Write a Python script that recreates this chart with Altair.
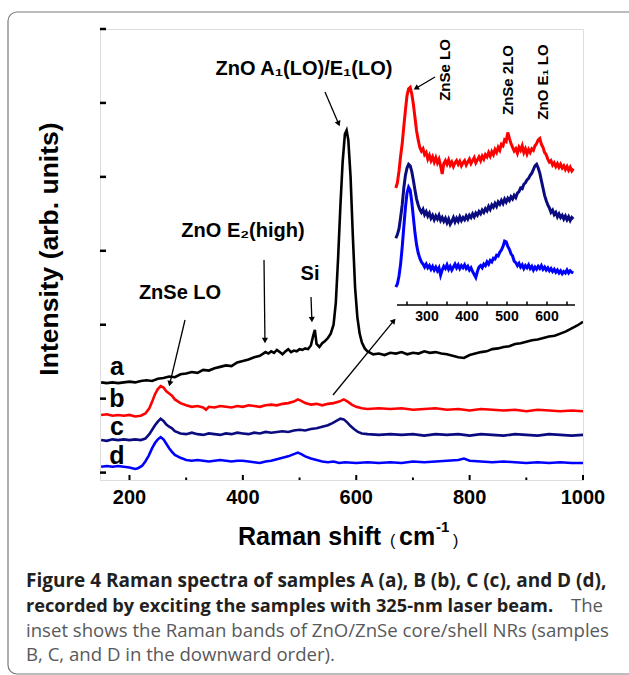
import math
import altair as alt
import pandas as pd

# ---------------- data ----------------
x_a = [150,160,170,180,190,200,210,220,230,240,250,260,270,280,290,300,310,320,330,340,350,360,370,380,390,400,410,420,430,440,445,450,455,460,465,470,475,480,485,490,495,500,505,510,515,520,524,527,530,535,540,545,550,555,560,564,568,572,576,580,583,586,590,594,598,602,606,610,615,620,630,640,650,660,670,680,690,700,710,720,730,740,750,760,770,780,790,800,810,820,830,840,850,860,870,880,890,900,910,920,930,940,950,960,970,980,990,1000]
y_a = [1.22,1.21,1.22,1.21,1.22,1.23,1.22,1.24,1.25,1.24,1.27,1.28,1.30,1.29,1.33,1.34,1.36,1.35,1.39,1.38,1.41,1.43,1.45,1.44,1.49,1.51,1.53,1.56,1.58,1.63,1.61,1.64,1.62,1.66,1.63,1.60,1.64,1.67,1.63,1.65,1.64,1.67,1.66,1.68,1.67,1.72,1.85,1.93,1.74,1.70,1.75,1.78,1.82,1.88,2.00,2.30,2.90,3.60,4.20,4.58,4.63,4.50,4.00,3.20,2.50,2.10,1.88,1.76,1.68,1.64,1.60,1.61,1.59,1.62,1.61,1.63,1.60,1.62,1.61,1.64,1.62,1.63,1.61,1.60,1.58,1.56,1.55,1.59,1.61,1.63,1.64,1.67,1.68,1.70,1.71,1.74,1.75,1.77,1.79,1.80,1.82,1.84,1.85,1.88,1.91,1.95,1.99,2.04]

x_b = [150,160,170,180,190,200,210,220,228,235,240,245,250,255,260,265,270,275,280,290,300,310,320,330,335,340,350,360,370,380,390,400,410,420,430,440,450,460,470,480,490,497,503,510,520,530,540,550,560,570,578,585,592,600,610,620,640,660,680,700,720,740,760,780,800,820,840,860,880,900,920,940,960,980,1000]
y_b = [0.78,0.79,0.77,0.78,0.77,0.78,0.76,0.77,0.80,0.87,0.96,1.06,1.13,1.17,1.15,1.10,1.07,1.04,0.99,0.94,0.91,0.89,0.90,0.88,0.85,0.89,0.88,0.90,0.89,0.88,0.90,0.89,0.91,0.90,0.89,0.91,0.92,0.91,0.93,0.94,0.96,0.99,0.97,0.94,0.92,0.93,0.91,0.93,0.94,0.96,0.99,0.96,0.92,0.89,0.87,0.86,0.87,0.86,0.87,0.85,0.86,0.87,0.85,0.86,0.84,0.86,0.85,0.84,0.85,0.83,0.85,0.84,0.83,0.84,0.83]

x_c = [150,160,170,180,190,200,210,220,228,235,240,245,250,255,260,265,270,275,280,290,300,310,320,330,340,350,360,370,380,390,400,410,420,430,440,450,460,470,480,490,500,510,520,530,540,550,558,565,572,578,584,590,596,603,610,620,640,660,680,700,720,740,760,780,800,820,840,860,880,900,920,940,960,980,1000]
y_c = [0.44,0.43,0.45,0.44,0.45,0.44,0.45,0.44,0.46,0.52,0.58,0.64,0.69,0.73,0.70,0.65,0.62,0.60,0.56,0.53,0.52,0.54,0.52,0.51,0.53,0.52,0.51,0.53,0.52,0.54,0.53,0.52,0.54,0.53,0.55,0.54,0.55,0.56,0.55,0.57,0.58,0.57,0.59,0.60,0.62,0.64,0.67,0.70,0.73,0.72,0.68,0.63,0.59,0.55,0.53,0.52,0.51,0.52,0.51,0.52,0.50,0.52,0.51,0.52,0.50,0.52,0.51,0.50,0.52,0.51,0.50,0.52,0.51,0.50,0.51]

x_d = [150,160,170,180,190,200,210,215,222,228,234,240,245,250,255,260,265,270,275,280,290,300,310,320,330,340,350,360,370,380,390,400,410,420,430,440,450,460,470,480,490,497,503,510,520,530,540,550,560,570,580,600,620,640,660,680,700,720,740,760,780,790,800,820,840,860,880,900,920,940,960,980,1000]
y_d = [0.08,0.09,0.08,0.09,0.08,0.07,0.05,0.06,0.09,0.15,0.23,0.33,0.40,0.45,0.48,0.45,0.39,0.33,0.28,0.24,0.20,0.17,0.16,0.17,0.16,0.15,0.16,0.17,0.16,0.15,0.16,0.16,0.15,0.14,0.13,0.15,0.16,0.18,0.20,0.22,0.25,0.27,0.25,0.22,0.19,0.17,0.15,0.14,0.15,0.13,0.14,0.13,0.14,0.13,0.14,0.13,0.15,0.14,0.15,0.16,0.17,0.19,0.16,0.15,0.14,0.15,0.14,0.13,0.14,0.13,0.14,0.13,0.13]

# inset spectra (samples B, C, D); inset x in cm^-1, 4 cm^-1 steps
ix_grid = [222,226,230,234,238,242,246,250,254,258,262,266,270,274,278,282,286,290,294,298,302,306,310,314,318,322,326,330,334,338,342,346,350,354,358,362,366,370,374,378,382,386,390,394,398,402,406,410,414,418,422,426,430,434,438,442,446,450,454,458,462,466,470,474,478,482,486,490,494,498,502,506,510,514,518,522,526,530,534,538,542,546,550,554,558,562,566,570,574,578,582,586,590,594,598,602,606,610,614,618,622,626,630,634,638,642,646,650,654,658,662,666]
iy_b = [3.85,3.92,4.08,4.28,4.45,4.68,4.90,5.10,5.19,5.21,5.12,4.98,4.80,4.62,4.50,4.40,4.35,4.38,4.30,4.33,4.24,4.29,4.22,4.27,4.20,4.26,4.19,4.24,4.15,4.04,4.18,4.22,4.17,4.23,4.16,4.20,4.14,4.19,4.22,4.17,4.21,4.15,4.19,4.22,4.16,4.20,4.24,4.18,4.22,4.26,4.19,4.23,4.27,4.22,4.28,4.24,4.30,4.27,4.33,4.28,4.34,4.30,4.37,4.33,4.40,4.36,4.44,4.42,4.50,4.48,4.60,4.52,4.45,4.40,4.35,4.38,4.32,4.40,4.36,4.42,4.33,4.38,4.31,4.37,4.33,4.38,4.36,4.42,4.45,4.50,4.52,4.44,4.40,4.33,4.30,4.24,4.20,4.22,4.16,4.19,4.14,4.18,4.13,4.17,4.12,4.15,4.10,4.14,4.09,4.13,4.08,4.11]
iy_c = [3.17,3.22,3.30,3.45,3.62,3.85,4.02,4.12,4.17,4.15,4.07,3.95,3.82,3.70,3.62,3.56,3.52,3.56,3.49,3.53,3.47,3.51,3.44,3.48,3.42,3.47,3.43,3.48,3.41,3.45,3.40,3.44,3.38,3.43,3.36,3.40,3.45,3.39,3.44,3.40,3.46,3.41,3.45,3.42,3.47,3.43,3.48,3.45,3.50,3.46,3.51,3.48,3.53,3.50,3.55,3.52,3.57,3.54,3.60,3.56,3.62,3.59,3.64,3.60,3.66,3.63,3.68,3.64,3.70,3.66,3.71,3.68,3.73,3.70,3.75,3.72,3.78,3.80,3.85,3.84,3.90,3.92,3.96,3.98,4.02,4.05,4.10,4.15,4.17,4.12,4.05,3.95,3.85,3.75,3.68,3.62,3.58,3.52,3.55,3.49,3.52,3.46,3.50,3.45,3.48,3.43,3.47,3.42,3.46,3.41,3.45,3.43]
iy_d = [2.51,2.55,2.66,2.82,3.05,3.32,3.58,3.78,3.86,3.82,3.66,3.45,3.24,3.08,2.97,2.90,2.85,2.82,2.78,2.82,2.77,2.80,2.75,2.79,2.74,2.78,2.73,2.77,2.67,2.74,2.79,2.76,2.81,2.75,2.79,2.74,2.78,2.82,2.77,2.81,2.76,2.80,2.77,2.81,2.76,2.79,2.74,2.77,2.72,2.68,2.64,2.72,2.78,2.80,2.77,2.82,2.80,2.85,2.82,2.87,2.85,2.90,2.89,2.94,2.93,2.98,3.01,3.06,3.13,3.12,3.06,3.02,2.96,2.93,2.86,2.84,2.80,2.83,2.78,2.81,2.76,2.80,2.77,2.81,2.76,2.79,2.74,2.78,2.75,2.79,2.76,2.80,2.75,2.78,2.74,2.77,2.73,2.76,2.72,2.75,2.71,2.74,2.70,2.73,2.69,2.72,2.70,2.74,2.70,2.73,2.71,2.70]

series = ["a", "b", "c", "d"]
colors = ["#000000", "#ff0000", "#0b0b80", "#0000ff"]

x_major = [200, 400, 600, 800, 1000]
x_minor = [300, 500, 700, 900]
y_ticks = [0, 1, 2, 3, 4, 5, 6]
inset_ticks = [250, 300, 350, 400, 450, 500, 550, 600, 650]
inset_labels = [300, 400, 500, 600]

# ---------------- layout ----------------
FONT = "Liberation Sans"
CAP = "Open Sans"
W, H = 483, 451
X0, X1 = 148, 1000
ONE = pd.DataFrame({"k": [0]})

xs = alt.Scale(domain=[X0, X1], nice=False, zero=False)
ys = alt.Scale(domain=[-0.1, 6.0], nice=False, zero=False)
cs = alt.Scale(domain=series, range=colors)

# inset x axis: 300 cm^-1 sits 327 px right of the plot's left edge, 0.4 px per cm^-1
K = (X1 - X0) / W
INSET_EXPR = f"{X0} + (327 + (datum.ix - 300) * 0.4) * {K}"


def txt(text, x, y, size, weight="bold", align="center", baseline="alphabetic",
        angle=0, font=FONT, color="black"):
    return alt.Chart(ONE).mark_text(
        text=text, align=align, baseline=baseline, fontSize=size,
        fontWeight=weight, font=font, angle=angle, color=color
    ).encode(x=alt.value(x), y=alt.value(y))


def arrow(x1, y1, x2, y2):
    dx, dy = x2 - x1, y2 - y1
    L = math.hypot(dx, dy)
    ux, uy = dx / L, dy / L
    ang = math.degrees(math.atan2(dx, -dy)) % 360
    line = alt.Chart(ONE).mark_rule(color="black", strokeWidth=1.3).encode(
        x=alt.value(x1), y=alt.value(y1), x2=alt.value(x2 - 3 * ux), y2=alt.value(y2 - 3 * uy))
    head = alt.Chart(ONE).mark_point(
        shape="triangle-up", filled=True, color="black", size=38, angle=ang, opacity=1
    ).encode(x=alt.value(x2 - 3.5 * ux), y=alt.value(y2 - 3.5 * uy))
    return [line, head]


# ---------------- main panel ----------------
main_df = pd.concat([
    pd.DataFrame({"x": x_a, "y": y_a, "s": "a"}),
    pd.DataFrame({"x": x_b, "y": y_b, "s": "b"}),
    pd.DataFrame({"x": x_c, "y": y_c, "s": "c"}),
    pd.DataFrame({"x": x_d, "y": y_d, "s": "d"}),
])

lines = alt.Chart(main_df).mark_line(strokeWidth=2.6, clip=True).encode(
    x=alt.X("x:Q", scale=xs, axis=None),
    y=alt.Y("y:Q", scale=ys, axis=None),
    color=alt.Color("s:N", scale=cs, legend=None),
)

xmaj = alt.Chart(pd.DataFrame({"t": x_major})).mark_rule(color="black", strokeWidth=2).encode(
    x=alt.X("t:Q", scale=xs, axis=None), y=alt.value(H - 5), y2=alt.value(H))
xmin = alt.Chart(pd.DataFrame({"t": x_minor})).mark_rule(color="black", strokeWidth=2).encode(
    x=alt.X("t:Q", scale=xs, axis=None), y=alt.value(H - 2.5), y2=alt.value(H))
xlab = alt.Chart(pd.DataFrame({"t": x_major})).mark_text(
    fontSize=20, fontWeight="bold", font=FONT, baseline="alphabetic", color="black"
).encode(x=alt.X("t:Q", scale=xs, axis=None), y=alt.value(475), text=alt.Text("t:Q"))
ytk = alt.Chart(pd.DataFrame({"t": y_ticks})).mark_rule(color="black", strokeWidth=2.5).encode(
    y=alt.Y("t:Q", scale=ys, axis=None), x=alt.value(0), x2=alt.value(6))

layers = [lines, xmaj, xmin, xlab, ytk]

# inset
inset_df = pd.concat([
    pd.DataFrame({"ix": ix_grid, "y": iy_b, "s": "b"}),
    pd.DataFrame({"ix": ix_grid, "y": iy_c, "s": "c"}),
    pd.DataFrame({"ix": ix_grid, "y": iy_d, "s": "d"}),
])
ilines = alt.Chart(inset_df).transform_calculate(xm=INSET_EXPR).mark_line(strokeWidth=3).encode(
    x=alt.X("xm:Q", scale=xs, axis=None),
    y=alt.Y("y:Q", scale=ys, axis=None),
    color=alt.Color("s:N", scale=cs, legend=None),
)
iaxis = alt.Chart(ONE).mark_rule(color="black", strokeWidth=1.5).encode(
    x=alt.value(297), x2=alt.value(475), y=alt.value(276))
itk = alt.Chart(pd.DataFrame({"ix": inset_ticks})).transform_calculate(xm=INSET_EXPR).mark_rule(
    color="black", strokeWidth=1.5).encode(
    x=alt.X("xm:Q", scale=xs, axis=None), y=alt.value(272.5), y2=alt.value(276))
ilab = alt.Chart(pd.DataFrame({"ix": inset_labels})).transform_calculate(xm=INSET_EXPR).mark_text(
    fontSize=14, fontWeight="bold", font=FONT, baseline="alphabetic", color="black"
).encode(x=alt.X("xm:Q", scale=xs, axis=None), y=alt.value(292), text=alt.Text("ix:Q"))
layers += [ilines, iaxis, itk, ilab]
layers += [
    txt("ZnSe LO", 345, 41, 15, angle=270, baseline="middle"),
    txt("ZnSe 2LO", 408, 51, 15, angle=270, baseline="middle"),
    txt("ZnO E\u2081 LO", 443, 53, 15, angle=270, baseline="middle"),
]

# curve letters
for s, yy in zip(series, [346, 378, 406, 435]):
    layers.append(txt(s, 17, yy, 25))

# annotations
layers += [
    txt("ZnO A\u2081(LO)/E\u2081(LO)", 204, 46, 20),
    txt("ZnO E\u2082(high)", 143, 208, 20),
    txt("Si", 210, 251, 20),
    txt("ZnSe LO", 80, 270, 20),
]
layers += arrow(225, 63, 240, 98)
layers += arrow(164, 231, 165, 315)
layers += arrow(211, 268, 212, 294)
layers += arrow(85, 291, 69, 358)
layers += arrow(233, 366, 296, 289)
layers += arrow(335, 48, 313, 61)

# axis titles
layers += [
    txt("Intensity (arb. units)", -50, 220, 26.5, angle=270, baseline="middle"),
    txt("Raman shift", 138, 516, 25, align="left"),
    txt("(", 290, 517, 16, weight="normal", align="left"),
    txt("cm", 299, 516, 25, align="left"),
    txt("-1", 336, 503, 15, align="left"),
    txt(")", 353, 517, 16, weight="normal", align="left"),
]

# caption and frame
frame = alt.Chart(ONE).mark_rect(
    fillOpacity=0, stroke="#7a7a7a", strokeWidth=1.2, cornerRadius=9
).encode(x=alt.value(-92), y=alt.value(-17), x2=alt.value(545), y2=alt.value(645))
layers.append(frame)
layers += [
    txt("Figure 4 Raman spectra of samples A (a), B (b), C (c), and D (d),", -74, 558, 19,
        align="left", font=CAP, color="#231f20"),
    txt("recorded by exciting the samples with 325-nm laser beam.", -74, 583, 18.2,
        align="left", font=CAP, color="#231f20"),
    txt("The", 503, 583, 18.6, weight="normal", align="right", font=CAP, color="#58595b"),
    txt("inset shows the Raman bands of ZnO/ZnSe core/shell NRs (samples", -74, 608, 18.6,
        weight="normal", align="left", font=CAP, color="#58595b"),
    txt("B, C, and D in the downward order).", -74, 632, 18.6,
        weight="normal", align="left", font=CAP, color="#58595b"),
]

chart = alt.layer(*layers).properties(
    width=W, height=H,
    padding={"left": 100, "top": 29, "right": 46, "bottom": 195},
    autosize=alt.AutoSizeParams(type="none"),
).configure_view(stroke="black", strokeWidth=3).configure(background="white")

chart.save("out.html", embed_options={"renderer": "svg", "actions": False})
